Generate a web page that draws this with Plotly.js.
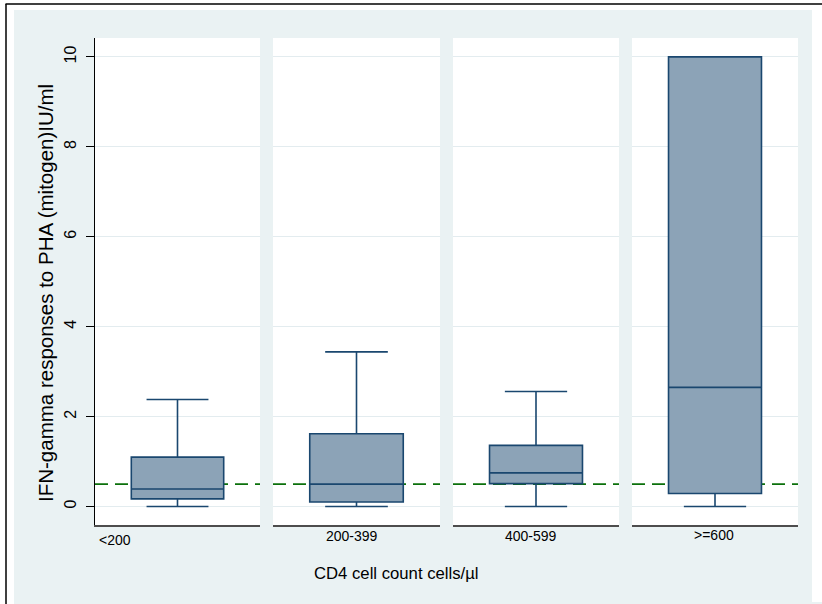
<!DOCTYPE html>
<html>
<head>
<meta charset="utf-8">
<script src="https://cdn.plot.ly/plotly-3.0.1.min.js"></script>
<style>html,body{margin:0;padding:0;background:#fff;}#chart{width:822px;height:604px;}</style>
</head>
<body>
<div id="chart"></div>
<script>
// ---- data ----
const categories = ["<200", "200-399", "400-599", ">=600"];
const lowerWhisker = [0, 0, 0, 0];
const q1Values = [0.17, 0.10, 0.51, 0.29];
const medianValues = [0.39, 0.50, 0.75, 2.65];
const q3Values = [1.10, 1.62, 1.36, 10.0];
const upperWhisker = [2.38, 3.44, 2.56, 10.0];
const cutoff = 0.5;
const yTickVals = [0, 2, 4, 6, 8, 10];
const yTitle = "IFN-gamma responses to PHA (mitogen)IU/ml";
const xTitle = "CD4 cell count cells/µl";

// ---- layout helpers ----
const W = 822, H = 604;
const px = v => v / W;
const py = v => 1 - v / H;
const panels = [[95, 260], [273, 440], [453, 619], [632, 798]];
const labelShift = [0, -4.5, -5, -1.5];
const labelY = [540, 535.5, 536, 534.5];
const axNames = ["x", "x2", "x3", "x4"];

const boxFill = "#8CA3B7";
const boxLine = "#1A476F";
const bg = "#EAF2F3";
const font = "Liberation Sans, Arial, sans-serif";

const traces = categories.map((c, i) => ({
  type: "box",
  x: [c],
  q1: [q1Values[i]],
  median: [medianValues[i]],
  q3: [q3Values[i]],
  lowerfence: [lowerWhisker[i]],
  upperfence: [upperWhisker[i]],
  xaxis: axNames[i],
  yaxis: "y",
  width: 0.56,
  whiskerwidth: 0.67,
  fillcolor: boxFill,
  line: {color: boxLine, width: 1.6},
  boxpoints: false,
  showlegend: false,
  hoverinfo: "skip"
}));

const layout = {
  width: W, height: H,
  margin: {l: 0, r: 0, t: 0, b: 0},
  paper_bgcolor: bg,
  plot_bgcolor: "#ffffff",
  showlegend: false,
  font: {family: font, color: "#000"},
  yaxis: {
    domain: [py(525), py(38)],
    range: [-0.41, 10.42],
    anchor: "x",
    tickvals: yTickVals,
    ticktext: yTickVals.map(String),
    ticks: "outside", ticklen: 8, tickwidth: 1, tickcolor: "#000",
    tickangle: -90,
    ticklabelstandoff: 4,
    tickfont: {size: 16, family: font, color: "#000"},
    showline: true, linecolor: "#000", linewidth: 1,
    showgrid: true, gridcolor: "#E3ECEF", gridwidth: 1,
    zeroline: false, fixedrange: true
  },
  shapes: [
    // white outer margins with black frame lines
    {type: "rect", xref: "paper", yref: "paper", x0: 0, x1: px(14), y0: 0, y1: 1, fillcolor: "#fff", line: {width: 0}, layer: "below"},
    {type: "rect", xref: "paper", yref: "paper", x0: 0, x1: 1, y0: py(10), y1: 1, fillcolor: "#fff", line: {width: 0}, layer: "below"},
    {type: "rect", xref: "paper", yref: "paper", x0: px(812), x1: 1, y0: py(602), y1: 1, fillcolor: "#fff", line: {width: 0}, layer: "below"},
    {type: "line", xref: "paper", yref: "paper", x0: px(5.5), x1: 1, y0: py(4), y1: py(4), line: {color: "#000", width: 1.5}},
    {type: "line", xref: "paper", yref: "paper", x0: px(6), x1: px(6), y0: 0, y1: py(4), line: {color: "#000", width: 1.5}}
  ],
  annotations: [
    {xref: "paper", yref: "paper", x: px(45), y: py(293), text: yTitle, textangle: -90, showarrow: false,
     font: {size: 20.5, family: font, color: "#000"}, xanchor: "center", yanchor: "middle"},
    {xref: "paper", yref: "paper", x: px(396), y: py(573), text: xTitle, showarrow: false,
     font: {size: 16.7, family: font, color: "#000"}, xanchor: "center", yanchor: "middle"}
  ]
};

panels.forEach((p, i) => {
  const key = i === 0 ? "xaxis" : "xaxis" + (i + 1);
  layout[key] = {
    domain: [px(p[0]), px(p[1])],
    type: "category",
    range: [-0.5, 0.5],
    anchor: "y",
    showticklabels: false,
    ticks: "",
    showline: true, linecolor: "#4d4d4d", linewidth: 1.5,
    showgrid: false, zeroline: false, fixedrange: true
  };
  // cutoff reference line (below boxes)
  layout.shapes.push({
    type: "line", xref: axNames[i] + " domain", yref: "y",
    x0: 0, x1: 1, y0: cutoff, y1: cutoff,
    line: {color: "#0B700B", width: 1.6, dash: "13px,7px"}, layer: "below"
  });
  // category label
  layout.annotations.push({
    xref: axNames[i] + " domain", yref: "paper",
    x: i === 0 ? 0 : 0.5, xanchor: i === 0 ? "left" : "center",
    xshift: i === 0 ? 1.5 : labelShift[i],
    y: py(labelY[i]), yanchor: "middle",
    text: categories[i], showarrow: false,
    font: {size: 14, family: font, color: "#000"}
  });
});

Plotly.newPlot("chart", traces, layout, {displayModeBar: false, staticPlot: true});
</script>
</body>
</html>
